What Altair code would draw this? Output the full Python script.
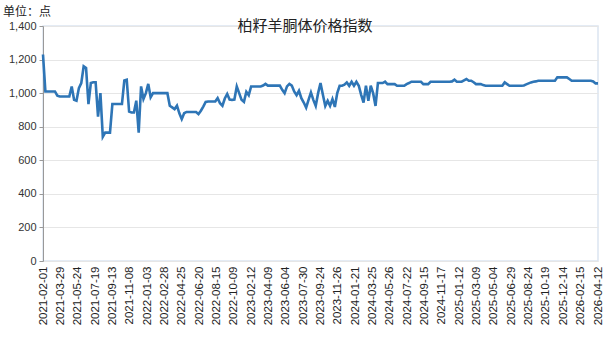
import altair as alt
import pandas as pd

title_text = "柏籽羊胴体价格指数"
unit_text = "单位：点"

tick_dates = [
    "2021-02-01", "2021-03-29", "2021-05-24", "2021-07-19", "2021-09-13", "2021-11-08",
    "2022-01-03", "2022-02-28", "2022-04-25", "2022-06-20", "2022-08-15", "2022-10-09",
    "2023-02-12", "2023-04-09", "2023-06-04", "2023-07-30", "2023-09-24", "2023-11-26",
    "2024-01-21", "2024-03-25", "2024-05-26", "2024-07-22", "2024-09-15", "2024-11-17",
    "2025-01-12", "2025-03-09", "2025-05-04", "2025-06-29", "2025-08-24", "2025-10-19",
    "2025-12-14", "2026-02-15", "2026-04-12",
]

values = [
    1230, 1010, 1010, 1010, 1010, 1010, 985, 980, 980, 980,
    980, 980, 1040, 960, 955, 1030, 1060, 1160, 1150, 935,
    1060, 1065, 1065, 860, 1000, 740, 765, 765, 765, 935,
    935, 935, 935, 935, 1075, 1080, 890, 885, 885, 955,
    765, 1040, 965, 1000, 1055, 975, 1000, 1000, 1000, 1000,
    1000, 1000, 1000, 925, 915, 905, 925, 880, 845, 880,
    888, 888, 888, 888, 888, 875, 895, 920, 948, 950,
    950, 950, 950, 970, 940, 925, 968, 995, 962, 960,
    962, 1040, 1000, 960, 948, 1008, 988, 1040, 1040, 1040,
    1040, 1040, 1045, 1055, 1045, 1045, 1045, 1045, 1045, 1045,
    1020, 1000, 1040, 1055, 1045, 1010, 988, 1014, 970, 944,
    914, 960, 1004, 960, 924, 1000, 1060, 990, 924, 954,
    924, 964, 918, 1000, 1044, 1044, 1050, 1064, 1044, 1068,
    1044, 1068, 1044, 990, 944, 1044, 954, 1044, 1000, 924,
    1060, 1060, 1060, 1068, 1054, 1054, 1054, 1054, 1044, 1044,
    1044, 1044, 1054, 1060, 1068, 1068, 1068, 1068, 1068, 1054,
    1054, 1054, 1068, 1068, 1068, 1068, 1068, 1068, 1068, 1068,
    1068, 1070, 1080, 1068, 1068, 1068, 1076, 1084, 1074, 1074,
    1065, 1054, 1054, 1054, 1048, 1044, 1044, 1044, 1044, 1044,
    1044, 1044, 1044, 1064, 1054, 1044, 1044, 1044, 1044, 1044,
    1044, 1046, 1052, 1058, 1064, 1068, 1070, 1074, 1074, 1074,
    1074, 1074, 1074, 1074, 1074, 1094, 1094, 1094, 1094, 1094,
    1084, 1074, 1074, 1074, 1074, 1074, 1074, 1074, 1074, 1074,
    1070, 1058, 1058,
]

y_ticks = [0, 200, 400, 600, 800, 1000, 1200, 1400]

n = len(values)
last = n - 1
n_int = len(tick_dates) - 1
step = last / n_int  # labelled dates are evenly spread over the category axis

df = pd.DataFrame({"idx": list(range(n)), "value": values})

tick_vals = [round(k * step, 4) for k in range(len(tick_dates))]
js_arr = "[" + ",".join("'" + s + "'" for s in tick_dates) + "]"

line = alt.Chart(df).mark_line(color="#2e75b6", strokeWidth=2.6, interpolate="linear").encode(
    x=alt.X(
        "idx:Q",
        scale=alt.Scale(domain=[0, last], nice=False, zero=False),
        axis=alt.Axis(
            values=tick_vals,
            labelExpr=js_arr + "[round(datum.value / " + str(step) + ")]",
            labelAngle=270,
            labelFont="Liberation Sans",
            labelFontSize=11.5,
            labelColor="#222222",
            labelPadding=5,
            ticks=False,
            domain=False,
            grid=False,
            title=None,
            labelOverlap=False,
        ),
    ),
    y=alt.Y(
        "value:Q",
        scale=alt.Scale(domain=[0, 1400], nice=False),
        axis=alt.Axis(
            values=y_ticks,
            format=",.0f",
            labelFont="Liberation Sans",
            labelFontSize=11,
            labelColor="#333333",
            tickSize=4,
            tickColor="#999999",
            domainColor="#999999",
            gridColor="#e6e6e6",
            labelPadding=3,
            title=None,
        ),
    ),
)

title_df = pd.DataFrame({"t": [title_text]})
title_mark = alt.Chart(title_df).mark_text(
    font="Noto Sans CJK SC", fontSize=15, color="#222222", align="center", baseline="middle"
).encode(text="t:N", x=alt.value(262), y=alt.value(0))

unit_df = pd.DataFrame({"t": [unit_text]})
unit_mark = alt.Chart(unit_df).mark_text(
    font="Noto Sans CJK SC", fontSize=12, color="#222222", align="left", baseline="middle"
).encode(text="t:N", x=alt.value(-40), y=alt.value(-14))

chart = alt.layer(line, title_mark, unit_mark).properties(
    width=555,
    height=235,
    autosize=alt.AutoSizeParams(type="none"),
    padding={"left": 43, "top": 26, "right": 8, "bottom": 80},
).configure_view(stroke="#dbe5f1", strokeWidth=1.5)

chart.save("out.html", embed_options={"renderer": "svg", "actions": False})
